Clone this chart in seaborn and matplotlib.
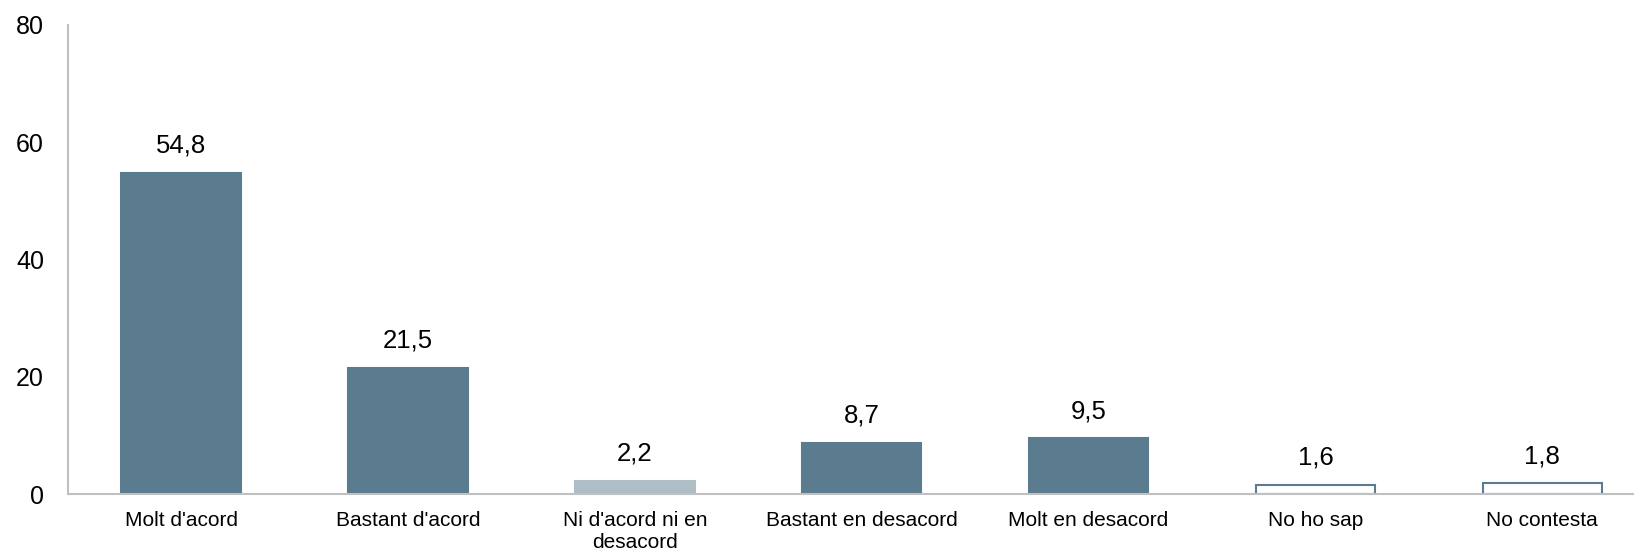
import matplotlib
matplotlib.use("Agg")
import matplotlib.pyplot as plt
import seaborn as sns
import pandas as pd

categories = ["Molt d'acord", "Bastant d'acord", "Ni d'acord ni en\ndesacord",
              "Bastant en desacord", "Molt en desacord", "No ho sap", "No contesta"]
values = [54.8, 21.5, 2.2, 8.7, 9.5, 1.6, 1.8]
value_labels = ["54,8", "21,5", "2,2", "8,7", "9,5", "1,6", "1,8"]
fill_colors = ["#5B7B8F", "#5B7B8F", "#ADBEC7", "#5B7B8F", "#5B7B8F", "#FFFFFF", "#FFFFFF"]
edge_colors = ["#5B7B8F", "#5B7B8F", "#ADBEC7", "#5B7B8F", "#5B7B8F", "#5B7B8F", "#5B7B8F"]
y_ticks = [0, 20, 40, 60, 80]

sns.set_theme(style="white")
plt.rcParams['font.family'] = ['Liberation Sans', 'DejaVu Sans']

df = pd.DataFrame({"cat": categories, "val": values})

W, H = 1634, 553
left, right, top, bottom = 67.7, 1655.8, 25.0, 494.0
fig = plt.figure(figsize=(W / 100, H / 100), dpi=100)
ax = fig.add_axes([left / W, 1 - bottom / H, (right - left) / W, (bottom - top) / H])

sns.barplot(data=df, x="cat", y="val", hue="cat", palette=fill_colors,
            legend=False, width=0.526, ax=ax, saturation=1)

for patch, ec in zip(ax.patches, edge_colors):
    patch.set_edgecolor(ec)
    patch.set_linewidth(1.5)

for patch, lab in zip(ax.patches, value_labels):
    x = patch.get_x() + patch.get_width() / 2
    h = patch.get_height()
    ax.annotate(lab, (x, h), xytext=(0, 11), textcoords="offset points",
                ha="center", va="bottom", fontsize=18.5, color="#000000")

ax.set_ylim(0, 80)
ax.set_xlim(-0.5, len(categories) - 0.5)
ax.set_yticks(y_ticks)
ax.set_yticklabels([str(t) for t in y_ticks], fontsize=18, color="#000000")
ax.tick_params(axis="x", labelsize=15, length=0, pad=12, labelcolor="#000000")
ax.tick_params(axis="y", length=0, pad=17, labelcolor="#000000")
ax.set_xlabel("")
ax.set_ylabel("")

for s in ["top", "right"]:
    ax.spines[s].set_visible(False)
for s in ["left", "bottom"]:
    ax.spines[s].set_color("#C0C0C0")
    ax.spines[s].set_linewidth(1.5)

fig.savefig("out.png", dpi=100)
